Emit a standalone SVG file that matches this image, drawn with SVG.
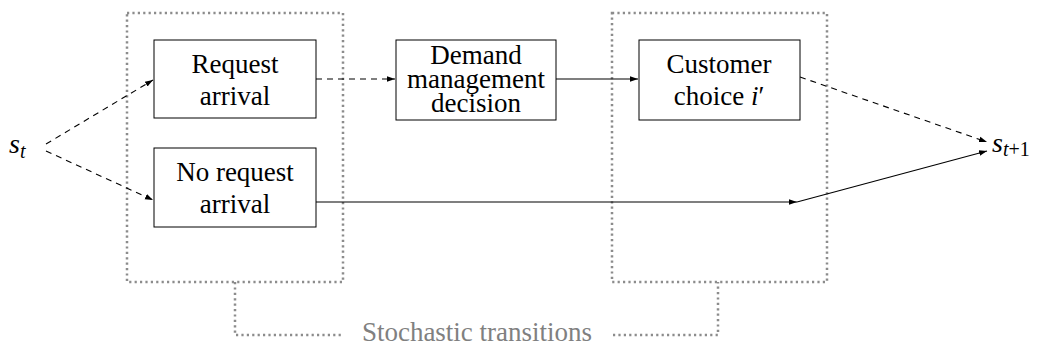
<svg xmlns="http://www.w3.org/2000/svg" width="1037" height="347" viewBox="0 0 1037 347">
<style>
.box{fill:#fff;stroke:#000;stroke-width:1}
.grp{fill:none;stroke:#8c8c8c;stroke-width:2.5;stroke-dasharray:2.2 3.2}
.t{font-family:"Liberation Serif","Times New Roman","DejaVu Serif",serif;font-size:27px;fill:#000;text-anchor:middle}
.m{font-family:"Liberation Serif","Times New Roman","DejaVu Serif",serif;font-style:italic;font-size:28px;fill:#000}
.c{fill:none;stroke:#000;stroke-width:1.1}
.d{stroke-dasharray:6 5}
</style>
<defs>
<marker id="ah" viewBox="0 0 10 10" refX="10" refY="5" markerWidth="8" markerHeight="8" markerUnits="userSpaceOnUse" orient="auto"><path d="M0,1.5 L10,5 L0,8.5 Z" fill="#000"/></marker>
</defs>
<g id="group-left"><rect class="grp" x="127" y="13" width="216" height="269"/></g>
<g id="group-right"><rect class="grp" x="612" y="13" width="215" height="269"/></g>
<g id="bracket">
<path class="grp" d="M235,282 V335 H341"/>
<path class="grp" d="M613,335 H718 V282"/>
<text x="477" y="341" font-family="'Liberation Serif','Times New Roman','DejaVu Serif',serif" font-size="27" fill="#808080" text-anchor="middle">Stochastic transitions</text>
</g>
<g id="connectors">
<path class="c d" d="M46,144 L153,80" marker-end="url(#ah)"/>
<path class="c d" d="M46,151 L153,200" marker-end="url(#ah)"/>
<path class="c d" d="M316,79 L395,79" marker-end="url(#ah)"/>
<path class="c" d="M556,79 L638,79" marker-end="url(#ah)"/>
<path class="c d" d="M800,77 L987,142" marker-end="url(#ah)"/>
<path class="c" d="M316,202 L797,202" marker-end="url(#ah)"/>
<path class="c" d="M797,202 L987,151" marker-end="url(#ah)"/>
</g>
<g id="st"><text class="m" x="9" y="153">s<tspan font-size="20" dy="5">t</tspan></text></g>
<g id="st1"><text class="m" x="992" y="152">s<tspan font-size="20" dy="4">t</tspan><tspan font-style="normal" font-size="20">+1</tspan></text></g>
<g id="request-arrival">
<rect class="box" x="154" y="40" width="162" height="78"/>
<text class="t" x="235" y="73">Request</text>
<text class="t" x="235" y="105">arrival</text>
</g>
<g id="no-request-arrival">
<rect class="box" x="154" y="148" width="162" height="79"/>
<text class="t" x="235" y="181">No request</text>
<text class="t" x="235" y="213">arrival</text>
</g>
<g id="demand-management">
<rect class="box" x="396" y="40" width="160" height="80"/>
<text class="t" x="476" y="64">Demand</text>
<text class="t" x="476" y="88">management</text>
<text class="t" x="476" y="112">decision</text>
</g>
<g id="customer-choice">
<rect class="box" x="639" y="40" width="161" height="80"/>
<text class="t" x="719" y="73">Customer</text>
<text class="t" x="719" y="105">choice <tspan font-style="italic">i</tspan>′</text>
</g>
</svg>
